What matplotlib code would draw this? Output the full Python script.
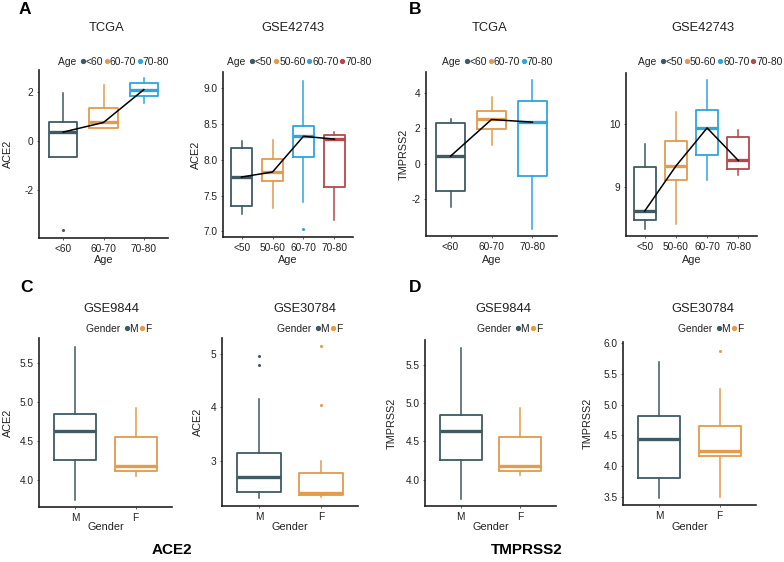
import matplotlib
matplotlib.use("Agg")
import matplotlib.pyplot as plt
from matplotlib.lines import Line2D

plt.rcParams['font.family'] = ['Liberation Sans', 'DejaVu Sans']

# colores de los grupos
c_slate = "#3E5A62"
c_orange = "#E39B4C"
c_blue = "#2EA6DA"
c_red = "#B5484A"

# ---- datos ----
age3 = ["<60", "60-70", "70-80"]
age4 = ["<50", "50-60", "60-70", "70-80"]
gender = ["M", "F"]

# A: ACE2 TCGA
ace2_tcga_med = [0.37, 0.76, 2.10]
ace2_tcga_q1 = [-0.64, 0.52, 1.84]
ace2_tcga_q3 = [0.79, 1.34, 2.35]
ace2_tcga_lo = [-0.64, 0.52, 1.57]
ace2_tcga_hi = [1.97, 2.30, 2.58]
ace2_tcga_out = [[-3.62], [], []]

# A: ACE2 GSE42743
ace2_gse42743_med = [7.76, 7.83, 8.33, 8.29]
ace2_gse42743_q1 = [7.35, 7.71, 8.04, 7.62]
ace2_gse42743_q3 = [8.17, 8.01, 8.47, 8.35]
ace2_gse42743_lo = [7.24, 7.33, 7.41, 7.16]
ace2_gse42743_hi = [8.26, 8.28, 9.11, 8.39]
ace2_gse42743_out = [[], [], [7.03], []]

# B: TMPRSS2 TCGA
tmp_tcga_med = [0.43, 2.49, 2.34]
tmp_tcga_q1 = [-1.54, 1.97, -0.66]
tmp_tcga_q3 = [2.28, 2.94, 3.52]
tmp_tcga_lo = [-2.44, 1.03, -3.65]
tmp_tcga_hi = [2.49, 3.78, 4.72]
tmp_tcga_out = [[], [], []]

# B: TMPRSS2 GSE42743
tmp_gse42743_med = [8.61, 9.33, 9.94, 9.42]
tmp_gse42743_q1 = [8.46, 9.11, 9.50, 9.29]
tmp_gse42743_q3 = [9.31, 9.73, 10.22, 9.80]
tmp_gse42743_lo = [8.33, 8.40, 9.11, 9.19]
tmp_gse42743_hi = [9.68, 10.19, 10.70, 9.90]
tmp_gse42743_out = [[], [], [], []]

# C/D: GSE9844 (mismos valores en ambos paneles)
gse9844_med = [4.63, 4.18]
gse9844_q1 = [4.26, 4.12]
gse9844_q3 = [4.85, 4.56]
gse9844_lo = [3.75, 4.06]
gse9844_hi = [5.71, 4.93]
gse9844_out = [[], []]

# C: ACE2 GSE30784
ace2_gse30784_med = [2.70, 2.40]
ace2_gse30784_q1 = [2.43, 2.37]
ace2_gse30784_q3 = [3.14, 2.78]
ace2_gse30784_lo = [2.30, 2.33]
ace2_gse30784_hi = [4.16, 3.00]
ace2_gse30784_out = [[4.79, 4.96], [4.05, 5.15]]

# D: TMPRSS2 GSE30784
tmp_gse30784_med = [4.44, 4.24]
tmp_gse30784_q1 = [3.81, 4.17]
tmp_gse30784_q3 = [4.82, 4.66]
tmp_gse30784_lo = [3.49, 3.50]
tmp_gse30784_hi = [5.69, 5.25]
tmp_gse30784_out = [[], [5.88]]

W, H = 784, 562
fig = plt.figure(figsize=(W / 100, H / 100), dpi=100)


def px_axes(l, t, r, b):
    return fig.add_axes([l / W, 1 - b / H, (r - l) / W, (b - t) / H])


def ftext(x, y, s, **kw):
    fig.text(x / W, 1 - y / H, s, **kw)


def panel(box, cats, colors, med, q1, q3, lo, hi, out, ylim, yticks, yfmt,
          title, title_xy, leg_title, leg_xy, ylabel, ylabel_x, xlabel,
          xlabel_y, line=False):
    ax = px_axes(*box)
    stats = []
    for i in range(len(cats)):
        stats.append(dict(med=med[i], q1=q1[i], q3=q3[i], whislo=lo[i],
                          whishi=hi[i], fliers=out[i], label=cats[i]))
    pos = list(range(len(cats)))
    for i, st in enumerate(stats):
        col = colors[i]
        ax.bxp([st], positions=[pos[i]], widths=0.7, showcaps=False,
               boxprops=dict(color=col, linewidth=1.3),
               whiskerprops=dict(color=col, linewidth=1.1),
               medianprops=dict(color=col, linewidth=2.4),
               flierprops=dict(marker='o', markersize=1.2, markerfacecolor=col,
                               markeredgecolor=col, linestyle='none'))
    if line:
        ax.plot(pos, med, color='black', linewidth=1.1, zorder=5)
    ax.set_xlim(-0.6, len(cats) - 0.4)
    ax.set_ylim(*ylim)
    ax.set_yticks(yticks)
    ax.set_yticklabels([yfmt.format(v) for v in yticks])
    ax.set_xticks(pos)
    ax.set_xticklabels(cats)
    for s in ['top', 'right']:
        ax.spines[s].set_visible(False)
    for s in ['left', 'bottom']:
        ax.spines[s].set_linewidth(1.2)
        ax.spines[s].set_color('#222222')
    ax.tick_params(labelsize=7.3, length=1.5, width=0.5, colors='#222222',
                   pad=2.5)
    ax.set_facecolor('none')

    ftext(title_xy[0], title_xy[1], title, ha='center', va='center',
          fontsize=9.3, color='#222222')
    cx = (box[0] + box[2]) / 2
    cy = (box[1] + box[3]) / 2
    if ylabel:
        ftext(ylabel_x, cy, ylabel, ha='center', va='center', rotation=90,
              fontsize=7.8, color='#222222')
    ftext(cx, xlabel_y, xlabel, ha='center', va='center', fontsize=7.8,
          color='#222222')

    handles = [Line2D([], [], linestyle='none', marker=None)]
    labels = [leg_title + " "]
    for i, c in enumerate(cats):
        handles.append(Line2D([], [], linestyle='none', marker='o',
                              markersize=2.8, color=colors[i]))
        labels.append(c)
    fig.legend(handles, labels, loc='center',
               bbox_to_anchor=(leg_xy[0] / W, 1 - leg_xy[1] / H),
               ncol=len(labels), frameon=False, fontsize=7.4,
               handlelength=0.35, handletextpad=0.1, columnspacing=0.2,
               borderpad=0, labelcolor='#222222')
    return ax


cols3 = [c_slate, c_orange, c_blue]
cols4 = [c_slate, c_orange, c_blue, c_red]
cols2 = [c_slate, c_orange]

panel((39, 70, 168, 238), age3, cols3, ace2_tcga_med, ace2_tcga_q1,
      ace2_tcga_q3, ace2_tcga_lo, ace2_tcga_hi, ace2_tcga_out,
      (-3.95, 2.9), [-2, 0, 2], "{:g}", "TCGA", (107, 28), "Age", (111, 62),
      "ACE2", 8, "Age", 260, line=True)
panel((223, 72, 353, 237), age4, cols4, ace2_gse42743_med, ace2_gse42743_q1,
      ace2_gse42743_q3, ace2_gse42743_lo, ace2_gse42743_hi,
      ace2_gse42743_out, (6.92, 9.23), [7.0, 7.5, 8.0, 8.5, 9.0], "{:.1f}",
      "GSE42743", (293, 28), "Age", (297, 62), "ACE2", 196, "Age", 260,
      line=True)
panel((426, 72, 557, 236), age3, cols3, tmp_tcga_med, tmp_tcga_q1,
      tmp_tcga_q3, tmp_tcga_lo, tmp_tcga_hi, tmp_tcga_out,
      (-4.06, 5.16), [-2, 0, 2, 4], "{:g}", "TCGA", (490, 28), "Age",
      (495, 62), "TMPRSS2", 404, "Age", 260, line=True)
panel((626, 73, 757, 236), age4, cols4, tmp_gse42743_med, tmp_gse42743_q1,
      tmp_gse42743_q3, tmp_gse42743_lo, tmp_gse42743_hi, tmp_gse42743_out,
      (8.21, 10.82), [9, 10], "{:g}", "GSE42743", (703, 28), "Age",
      (708, 62), None, 0, "Age", 260, line=True)

panel((39, 338, 172, 507), gender, cols2, gse9844_med, gse9844_q1,
      gse9844_q3, gse9844_lo, gse9844_hi, gse9844_out,
      (3.66, 5.82), [4.0, 4.5, 5.0, 5.5], "{:.1f}", "GSE9844", (111, 309),
      "Gender", (116, 329), "ACE2", 8, "Gender", 527)
panel((222, 338, 358, 506), gender, cols2, ace2_gse30784_med,
      ace2_gse30784_q1, ace2_gse30784_q3, ace2_gse30784_lo,
      ace2_gse30784_hi, ace2_gse30784_out,
      (2.16, 5.29), [3, 4, 5], "{:g}", "GSE30784", (305, 309), "Gender",
      (307, 329), "ACE2", 198, "Gender", 527)
panel((425, 340, 556, 506), gender, cols2, gse9844_med, gse9844_q1,
      gse9844_q3, gse9844_lo, gse9844_hi, gse9844_out,
      (3.66, 5.82), [4.0, 4.5, 5.0, 5.5], "{:.1f}", "GSE9844", (503, 309),
      "Gender", (507, 329), "TMPRSS2", 392, "Gender", 527)
panel((623, 342, 756, 505), gender, cols2, tmp_gse30784_med,
      tmp_gse30784_q1, tmp_gse30784_q3, tmp_gse30784_lo, tmp_gse30784_hi,
      tmp_gse30784_out,
      (3.37, 6.02), [3.5, 4.0, 4.5, 5.0, 5.5, 6.0], "{:.1f}", "GSE30784",
      (703, 309), "Gender", (708, 329), "TMPRSS2", 588, "Gender", 527)

# letras de los paneles y rotulos inferiores
for letra, x, y in [("A", 19, 9), ("B", 409, 9), ("C", 20, 287), ("D", 409, 287)]:
    ftext(x, y, letra, ha='left', va='center', fontsize=12.5, fontweight='bold')
ftext(172, 550, "ACE2", ha='center', va='center', fontsize=11,
      fontweight='bold')
ftext(527, 550, "TMPRSS2", ha='center', va='center', fontsize=11,
      fontweight='bold')

fig.savefig("out.png", dpi=100)
